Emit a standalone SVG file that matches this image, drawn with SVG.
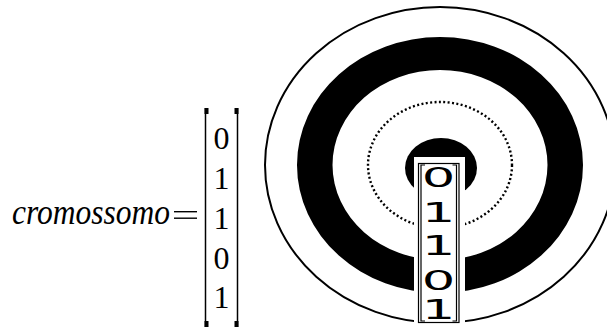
<svg xmlns="http://www.w3.org/2000/svg" width="607" height="329" viewBox="0 0 607 329">
<style>
.math{font-family:"Liberation Serif","DejaVu Serif",serif;fill:#000}
.bits{font-family:"DejaVu Sans","Liberation Sans",sans-serif;font-size:27px;fill:#000;text-anchor:middle}
.ln{fill:none;stroke:#000}
</style>
<rect width="607" height="329" fill="#fff"/>
<g id="formula">
  <text class="math" x="12" y="224" font-size="36" font-style="italic" textLength="158" lengthAdjust="spacingAndGlyphs">cromossomo</text>
  <rect x="174" y="211" width="23" height="1.4" fill="#000"/>
  <rect x="174" y="217.5" width="23" height="1.4" fill="#000"/>
  <g id="matrix">
    <path class="ln" stroke-width="1.5" d="M205.5,108 V327"/>
    <rect x="204.5" y="108" width="4" height="6" fill="#000"/>
    <rect x="204.5" y="321" width="4" height="6" fill="#000"/>
    <path class="ln" stroke-width="1.5" d="M237.5,108 V327"/>
    <rect x="234.5" y="108" width="4" height="6" fill="#000"/>
    <rect x="234.5" y="321" width="4" height="6" fill="#000"/>
    <g class="math" font-size="32" text-anchor="middle">
      <text x="221.5" y="149">0</text>
      <text x="221.5" y="189">1</text>
      <text x="221.5" y="229">1</text>
      <text x="221.5" y="269">0</text>
      <text x="221.5" y="308">1</text>
    </g>
  </g>
</g>
<g id="target">
  <ellipse class="ln" cx="440" cy="165" rx="175" ry="158" stroke-width="2"/>
  <path fill="#000" fill-rule="evenodd" d="M297,165 a143,128 0 1,0 286,0 a143,128 0 1,0 -286,0 Z M332.5,165 a107.5,95 0 1,0 215,0 a107.5,95 0 1,0 -215,0 Z"/>
  <ellipse class="ln" cx="440" cy="165" rx="72" ry="63" stroke-width="2.4" stroke-dasharray="2 2.4"/>
  <ellipse cx="441" cy="168" rx="36" ry="30" fill="#000"/>
  <rect x="414" y="157" width="51" height="172" fill="#fff"/>
</g>
<g id="chromosome-box">
  <rect x="418.5" y="163.5" width="40.5" height="159" fill="#fff" stroke="#000" stroke-width="1.2"/>
  <path class="ln" stroke-width="1.2" d="M425,165 H421 V321 H425 M452.5,165 H456.5 V321 H452.5"/>
  <g transform="scale(1.95,1)">
    <text class="bits" x="224.9" y="187">0</text>
    <text class="bits" x="224.9" y="222">1</text>
    <text class="bits" x="224.9" y="255">1</text>
    <text class="bits" x="224.9" y="290">0</text>
    <text class="bits" x="224.9" y="319">1</text>
  </g>
</g>
</svg>
